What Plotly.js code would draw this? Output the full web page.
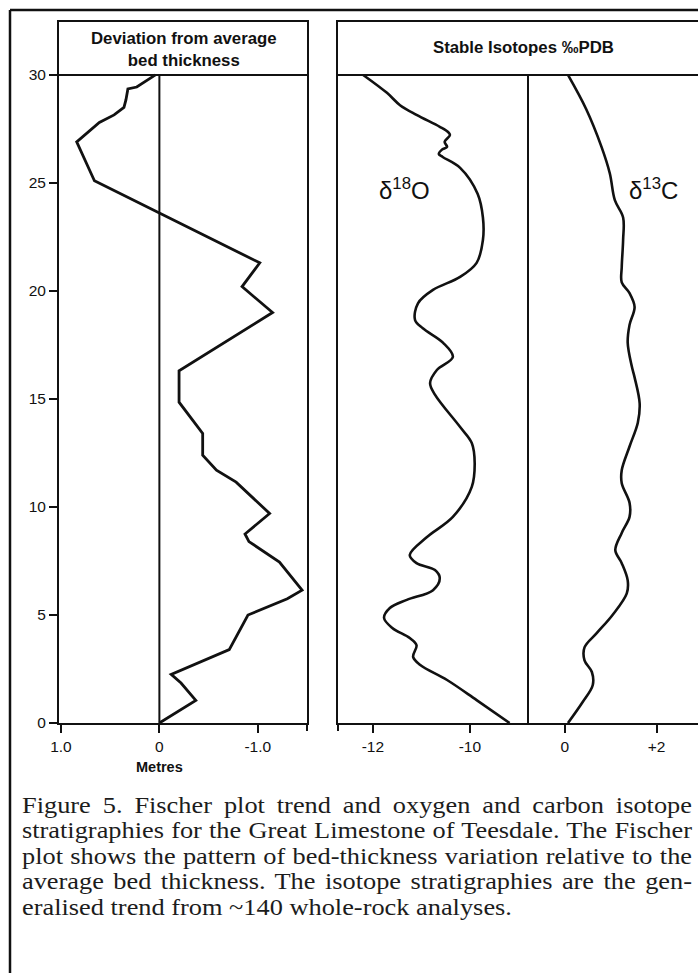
<!DOCTYPE html>
<html>
<head>
<meta charset="utf-8">
<script src="https://cdn.plot.ly/plotly-3.0.1.min.js"></script>
<style>
html,body{margin:0;padding:0;background:#fff;}
#wrap{position:relative;width:698px;height:973px;overflow:hidden;background:#fff;}
#chart{position:absolute;left:0;top:0;width:698px;height:973px;}
#caption{position:absolute;left:22px;top:792.5px;width:670px;font-family:"Liberation Serif","Times New Roman",serif;font-size:22.5px;line-height:25.5px;color:#1c1c1c;transform-origin:0 0;}
#caption .l{white-space:nowrap;text-align:justify;text-align-last:justify;}
#caption .l.last{text-align:left;text-align-last:left;}
#caption.measure .l{text-align:left;text-align-last:left;}
#caption .l span{white-space:nowrap;}
</style>
</head>
<body>
<div id="wrap"><div id="chart"></div><div id="caption"></div></div>
<script>
// ---- Data ----
const fischerDepth = [0, 1.05, 1.85, 2.25, 3.4, 5.0, 5.75, 6.15, 7.45, 8.4, 8.75, 9.7, 11.15, 11.7, 12.4, 13.4, 14.85, 16.3, 19.0, 20.2, 21.3, 25.1, 25.6, 26.9, 27.8, 28.15, 28.5, 28.84, 29.35, 29.44, 30];
const fischerDev = [0, -0.37, -0.22, -0.12, -0.71, -0.9, -1.3, -1.45, -1.22, -0.91, -0.87, -1.12, -0.78, -0.58, -0.44, -0.44, -0.2, -0.2, -1.15, -0.84, -1.02, 0.66, 0.71, 0.84, 0.61, 0.46, 0.36, 0.34, 0.32, 0.23, 0.04];

const o18Depth = [0, 1.06, 1.99, 2.7, 3.06, 3.6, 3.93, 4.4, 4.86, 5.32, 5.7, 6.15, 6.7, 7.08, 7.4, 7.78, 8.6, 9.54, 10.93, 12.04, 12.96, 13.7, 15.2, 15.74, 16.34, 16.95, 17.6, 18.27, 18.65, 19.43, 20.05, 20.65, 21.3, 22.36, 23.4, 24.5, 25.7, 26.2, 26.34, 26.53, 26.67, 26.9, 27.22, 27.36, 27.6, 28.15, 28.6, 29.17, 30];
const o18Value = [-9.18, -9.86, -10.47, -11.03, -11.17, -11.1, -11.24, -11.6, -11.77, -11.65, -11.3, -10.76, -10.62, -10.72, -11.1, -11.24, -10.89, -10.35, -9.96, -9.9, -9.96, -10.2, -10.72, -10.82, -10.68, -10.35, -10.55, -10.97, -11.13, -11.07, -10.76, -10.2, -9.86, -9.73, -9.73, -9.84, -10.2, -10.56, -10.64, -10.58, -10.47, -10.52, -10.41, -10.45, -10.62, -11.1, -11.44, -11.71, -12.2];

const c13Depth = [0, 0.97, 1.76, 2.36, 2.9, 3.5, 4.17, 5.0, 6.0, 6.6, 7.4, 8.0, 8.8, 9.54, 10.2, 11.1, 11.7, 12.8, 13.9, 14.8, 16.0, 16.5, 17.6, 18.43, 19.26, 19.9, 20.4, 21.1, 22.36, 23.4, 24.2, 25.45, 26.67, 28.4, 30];
const c13Value = [0.07, 0.39, 0.61, 0.59, 0.43, 0.43, 0.7, 1.04, 1.35, 1.37, 1.24, 1.1, 1.24, 1.41, 1.41, 1.24, 1.24, 1.41, 1.59, 1.63, 1.52, 1.46, 1.37, 1.41, 1.52, 1.41, 1.24, 1.24, 1.27, 1.27, 1.09, 0.98, 0.8, 0.47, 0.07];

const depthTicks = [0, 5, 10, 15, 20, 25, 30];
const fischerTicks = [1.0, 0, -1.0];
const fischerTickText = ['1.0', '0', '-1.0'];
const o18Ticks = [-12, -10];
const o18TickText = ['-12', '-10'];
const c13Ticks = [0, 2];
const c13TickText = ['0', '+2'];

const captionLines = [
  'Figure 5. Fischer plot trend and oxygen and carbon isotope',
  'stratigraphies for the Great Limestone of Teesdale. The Fischer',
  'plot shows the pattern of bed-thickness variation relative to the',
  'average bed thickness. The isotope stratigraphies are the gen-',
  'eralised trend from ~140 whole-rock analyses.'
];

// ---- Layout helpers (pixel -> paper fraction) ----
const W = 698, H = 973;
const px = v => v / W;
const py = v => 1 - v / H;

const INK = '#111111';
const SANS = '"Liberation Sans", Arial, Helvetica, sans-serif';

const yDomain = [py(723), py(22)];
const yRange = [0, 32.45];

const lineStyle = {color: INK, width: 2.6};

const traces = [
  {x: fischerDev, y: fischerDepth, xaxis: 'x', yaxis: 'y', type: 'scatter', mode: 'lines',
   line: {color: INK, width: 2.8}, hoverinfo: 'skip'},
  {x: o18Value, y: o18Depth, xaxis: 'x2', yaxis: 'y2', type: 'scatter', mode: 'lines',
   line: Object.assign({shape: 'spline', smoothing: 1}, lineStyle), hoverinfo: 'skip'},
  {x: c13Value, y: c13Depth, xaxis: 'x3', yaxis: 'y2', type: 'scatter', mode: 'lines',
   line: Object.assign({shape: 'spline', smoothing: 1}, lineStyle), hoverinfo: 'skip'}
];

const axisCommon = {
  showgrid: false, zeroline: false, showline: true, linecolor: INK, linewidth: 2,
  ticks: 'outside', ticklen: 8, tickwidth: 2, tickcolor: INK,
  tickfont: {family: SANS, size: 15.5, color: INK}, fixedrange: true
};

const frameTick = {color: INK, width: 2};

const layout = {
  width: W, height: H, autosize: false,
  margin: {l: 0, r: 0, t: 0, b: 0, pad: 0},
  paper_bgcolor: '#ffffff', plot_bgcolor: 'rgba(0,0,0,0)',
  showlegend: false,
  font: {family: SANS, color: INK},
  xaxis: Object.assign({}, axisCommon, {
    domain: [px(59), px(307)], range: [1.02, -1.5], anchor: 'y', mirror: true,
    tickmode: 'array', tickvals: fischerTicks, ticktext: fischerTickText
  }),
  yaxis: Object.assign({}, axisCommon, {
    domain: yDomain, range: yRange, anchor: 'x', mirror: true,
    tickmode: 'array', tickvals: depthTicks
  }),
  xaxis2: Object.assign({}, axisCommon, {
    domain: [px(338), px(528)], range: [-12.72, -8.8], anchor: 'y2', mirror: true,
    tickmode: 'array', tickvals: o18Ticks, ticktext: o18TickText
  }),
  xaxis3: Object.assign({}, axisCommon, {
    domain: [px(528), 1], range: [-0.8, 2.9], anchor: 'y2', mirror: true,
    tickmode: 'array', tickvals: c13Ticks, ticktext: c13TickText
  }),
  yaxis2: Object.assign({}, axisCommon, {
    domain: yDomain, range: yRange, anchor: 'x2', mirror: false,
    ticks: '', showticklabels: false
  }),
  shapes: [
    // outer figure border
    {type: 'line', xref: 'paper', yref: 'paper', x0: px(10), x1: px(10), y0: py(10), y1: -0.01, line: {color: INK, width: 2.5}},
    {type: 'line', xref: 'paper', yref: 'paper', x0: px(10), x1: 1.01, y0: py(10), y1: py(10), line: {color: INK, width: 2.5}},
    // frame corners extending below the base line
    {type: 'line', xref: 'x domain', yref: 'paper', x0: 1, x1: 1, y0: py(723), y1: py(731), line: frameTick},
    {type: 'line', xref: 'x2 domain', yref: 'paper', x0: 0, x1: 0, y0: py(723), y1: py(731), line: frameTick},
    // header rule at 30 m
    {type: 'line', xref: 'x domain', yref: 'y', x0: 0, x1: 1, y0: 30, y1: 30, line: {color: INK, width: 2}},
    {type: 'line', xref: 'x2 domain', yref: 'y2', x0: 0, x1: 1, y0: 30, y1: 30, line: {color: INK, width: 2}},
    {type: 'line', xref: 'x3 domain', yref: 'y2', x0: 0, x1: 1, y0: 30, y1: 30, line: {color: INK, width: 2}},
    // zero line of Fischer plot
    {type: 'line', xref: 'x', yref: 'y', x0: 0, x1: 0, y0: 0, y1: 30, line: {color: INK, width: 2}},
    // divider between isotope columns
    {type: 'line', xref: 'x3 domain', yref: 'y2', x0: 0, x1: 0, y0: 0, y1: 30, line: {color: INK, width: 2}}
  ],
  annotations: [
    {xref: 'paper', yref: 'paper', x: px(184), y: py(49), xanchor: 'center', yanchor: 'middle', showarrow: false,
     text: '<b>Deviation from average</b><br><b>bed thickness</b>', align: 'center',
     font: {family: SANS, size: 16.8, color: INK}},
    {xref: 'paper', yref: 'paper', x: px(523), y: py(48), xanchor: 'center', yanchor: 'middle', showarrow: false,
     text: '<b>Stable Isotopes ‰PDB</b>', font: {family: SANS, size: 16.8, color: INK}},
    {xref: 'x', yref: 'paper', x: 0, y: py(767), xanchor: 'center', yanchor: 'middle', showarrow: false,
     text: '<b>Metres</b>', font: {family: SANS, size: 14.5, color: INK}},
    {xref: 'x2', yref: 'y2', x: -11.34, y: 24.7, xanchor: 'center', yanchor: 'middle', showarrow: false,
     text: 'δ<sup>18</sup>O', font: {family: SANS, size: 24, color: INK}},
    {xref: 'x3', yref: 'y2', x: 1.93, y: 24.7, xanchor: 'center', yanchor: 'middle', showarrow: false,
     text: 'δ<sup>13</sup>C', font: {family: SANS, size: 24, color: INK}}
  ]
};

Plotly.newPlot('chart', traces, layout, {staticPlot: true, displayModeBar: false});

// ---- Caption: justified lines, scaled horizontally so the widest line fills 670px ----
const CAP_W = 670;
const cap = document.getElementById('caption');
const spans = [];
captionLines.forEach((t, i) => {
  const d = document.createElement('div');
  d.className = 'l' + (i === captionLines.length - 1 ? ' last' : '');
  const s = document.createElement('span');
  s.textContent = t;
  d.appendChild(s);
  cap.appendChild(d);
  spans.push(s);
});
function fitCaption() {
  cap.classList.add('measure');
  cap.style.transform = 'none';
  cap.style.width = '2000px';
  let maxW = 0;
  spans.forEach(s => { maxW = Math.max(maxW, s.getBoundingClientRect().width); });
  cap.classList.remove('measure');
  const scale = Math.min(1.2, Math.max(0.9, CAP_W / (maxW + 4)));
  cap.style.width = (CAP_W / scale) + 'px';
  cap.style.transform = 'scaleX(' + scale + ')';
}
fitCaption();
if (document.fonts && document.fonts.ready) document.fonts.ready.then(fitCaption);
</script>
</body>
</html>
